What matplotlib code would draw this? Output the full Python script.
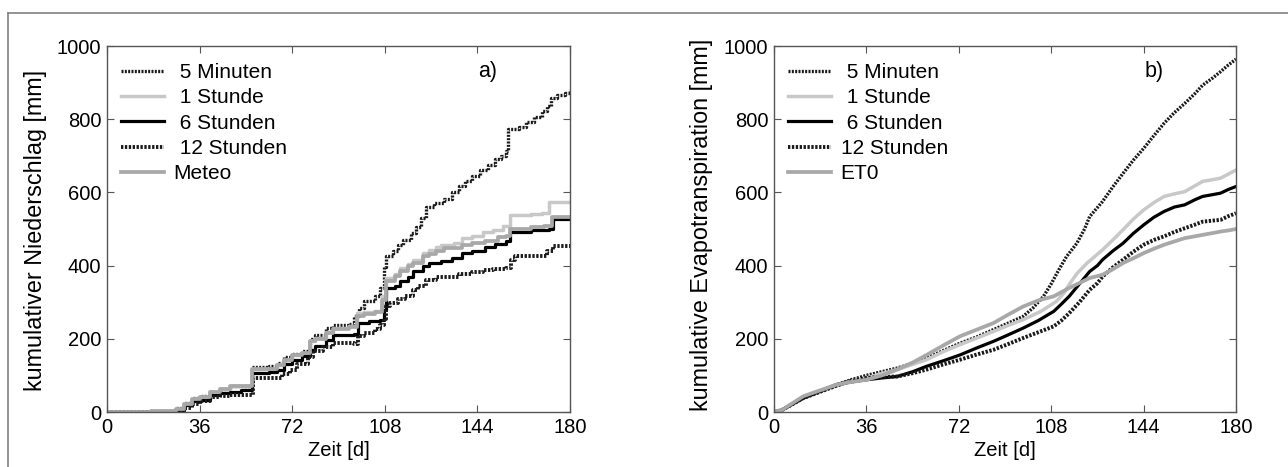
import matplotlib
matplotlib.use("Agg")
import matplotlib.pyplot as plt
from matplotlib.lines import Line2D

plt.rcParams['font.family'] = ['Liberation Sans', 'DejaVu Sans']

# ---- panel a) cumulative precipitation (step curves) ----
a_5min_d = [0, 17, 27, 30, 33, 36, 40, 44, 48, 56.5, 63, 66, 69, 72, 76, 79, 81, 85, 88, 94, 96, 98, 100, 104, 106,
            107.5, 108.5, 111, 113, 115, 118, 120, 122, 124, 127, 131, 134, 137, 139, 142, 145, 148, 151, 153, 155,
            156, 160, 163, 166, 169, 171, 172.5, 175, 178, 180]
a_5min_v = [0, 3, 12, 25, 38, 45, 56, 62, 70, 123, 125, 135, 150, 158, 168, 200, 210, 230, 238, 240, 262, 285, 302,
            316, 340, 395, 425, 440, 455, 470, 490, 505, 530, 560, 570, 582, 600, 618, 632, 645, 662, 675, 690, 700,
            712, 772, 780, 792, 805, 822, 835, 858, 865, 872, 876]

a_1h_d = [0, 17, 27, 30, 33, 36, 40, 44, 48, 56.5, 63, 66, 69, 72, 76, 79, 81, 85, 88, 94, 97, 100, 104, 107, 108.5,
          112, 114, 117, 119, 123, 125, 128, 130, 135, 138, 142, 146, 150, 154, 156.5, 165, 169, 172, 180]
a_1h_v = [0, 2, 8, 22, 35, 40, 55, 62, 72, 117, 118, 128, 143, 155, 162, 195, 202, 218, 230, 234, 270, 272, 276, 316,
          365, 378, 393, 405, 416, 435, 443, 450, 457, 462, 475, 482, 492, 498, 507, 539, 542, 545, 573, 575]

a_6h_d = [0, 28, 30, 33, 36, 40, 44, 48, 52, 56.5, 63, 66, 69, 72, 76, 79, 81, 85, 88, 96, 97.5, 102, 106, 107.5,
          108.5, 112, 114, 117, 119, 123, 125, 130, 134, 138, 142, 147, 151, 155, 156.5, 165, 172, 173.5, 180]
a_6h_v = [0, 5, 18, 30, 34, 47, 52, 56, 60, 106, 108, 116, 130, 143, 152, 170, 180, 198, 211, 212, 243, 248, 252, 280,
          338, 345, 357, 370, 384, 398, 407, 412, 420, 434, 440, 452, 458, 466, 493, 497, 500, 527, 527]

a_12h_d = [0, 28, 30, 33, 36, 40, 44, 48, 56.8, 65, 68, 71, 74, 78, 80, 84, 88, 96, 97.5, 100, 104, 106, 107.5, 108.5,
           110, 113, 116, 119, 121, 124, 128, 133, 137, 142, 146, 150, 155, 157, 158.5, 168, 171, 173.5, 180]
a_12h_v = [0, 3, 12, 22, 29, 40, 45, 47, 93, 94, 105, 116, 132, 150, 166, 178, 188, 185, 207, 215, 228, 238, 255, 290,
           298, 310, 316, 334, 345, 361, 368, 370, 378, 382, 388, 390, 393, 415, 425, 425, 440, 454, 454]

a_meteo_d = [0, 17, 27, 30, 33, 36, 40, 44, 48, 56.5, 63, 66, 69, 72, 76, 79, 81, 85, 88, 94, 97, 100, 104, 107, 108.5,
             112, 114, 117, 119, 123, 125, 128, 131, 138, 142, 147, 152, 155, 156.5, 165, 170, 173, 180]
a_meteo_v = [0, 2, 8, 22, 35, 40, 55, 62, 70, 117, 118, 128, 143, 155, 162, 195, 200, 215, 228, 232, 262, 268, 272,
             305, 358, 372, 385, 398, 408, 425, 433, 440, 447, 455, 462, 468, 478, 482, 500, 505, 507, 534, 534]

# ---- panel b) cumulative evapotranspiration ----
b_5min_d = [0, 3, 11.4, 24.4, 30, 36, 42, 48, 54, 59.5, 66, 72.5, 79, 85.5, 91, 97, 101, 105, 108, 111, 114, 118, 121,
            123, 128, 132, 136, 140, 144, 148, 152, 156, 160, 164, 167, 171, 174, 177, 180]
b_5min_v = [0, 5, 38, 75, 88, 100, 110, 120, 133, 147, 168, 188, 205, 225, 242, 261, 285, 316, 350, 389, 425, 461, 500,
            534, 575, 615, 652, 688, 720, 755, 789, 818, 843, 870, 893, 913, 930, 948, 964]

b_1h_d = [0, 3, 11.4, 24.4, 30, 36, 42, 48, 54, 59.5, 66, 72.5, 79, 85.5, 91, 97, 104, 110, 113, 115, 118, 122, 125,
          128, 132, 136, 140, 144, 148, 152, 156, 160, 164, 167, 171, 174, 177, 180]
b_1h_v = [0, 5, 38, 72, 85, 93, 105, 116, 130, 143, 165, 184, 202, 220, 236, 252, 275, 302, 325, 348, 378, 407, 425,
          443, 470, 498, 527, 552, 572, 589, 596, 602, 618, 630, 635, 639, 650, 661]

b_6h_d = [0, 3, 11.4, 24.4, 30, 36, 42, 48, 54, 59.5, 66, 72.5, 79, 85.5, 91, 97, 103, 109, 112, 115, 119, 123, 126,
          128, 132, 136, 140, 144, 148, 152, 156, 160, 164, 167, 171, 174, 177, 180]
b_6h_v = [0, 5, 38, 75, 82, 88, 93, 97, 110, 125, 140, 156, 175, 193, 210, 229, 250, 275, 295, 316, 350, 384, 400, 416,
          440, 461, 488, 511, 532, 548, 560, 566, 580, 589, 594, 598, 608, 616]

b_12h_d = [0, 3, 11.4, 24.4, 30, 36, 42, 48, 54, 59.5, 66, 72.5, 79, 85.5, 91, 97, 103, 109, 112, 115, 119, 123, 126,
           128, 132, 136, 140, 144, 148, 152, 156, 160, 164, 167, 171, 174, 177, 180]
b_12h_v = [0, 5, 38, 72, 85, 93, 96, 97, 106, 116, 130, 143, 157, 170, 185, 202, 218, 234, 250, 270, 300, 334, 352,
           370, 395, 416, 438, 457, 470, 480, 492, 502, 512, 520, 523, 525, 535, 543]

b_et0_d = [0, 3, 11.4, 24.4, 30, 36, 42, 48, 54, 59.5, 66, 72.5, 79, 85.5, 91, 97, 103, 109, 115, 123, 128, 132, 136,
           140, 144, 148, 152, 156, 160, 164, 167, 171, 174, 177, 180]
b_et0_v = [0, 5, 43, 75, 82, 88, 100, 116, 135, 156, 182, 207, 225, 243, 265, 288, 305, 316, 339, 366, 375, 390, 407,
           420, 434, 446, 457, 466, 475, 480, 484, 489, 493, 496, 500]

labels_a = [" 5 Minuten", " 1 Stunde", " 6 Stunden", " 12 Stunden", "Meteo"]
labels_b = [" 5 Minuten", " 1 Stunde", " 6 Stunden", "12 Stunden", "ET0"]
xticks = [0, 36, 72, 108, 144, 180]
yticks = [0, 200, 400, 600, 800, 1000]

styles = [
    dict(color="#1a1a1a", lw=2.4, ls=(0, (0.6, 0.4))),
    dict(color="#c8c8c8", lw=2.5, ls="-"),
    dict(color="black", lw=2.3, ls="-"),
    dict(color="#1a1a1a", lw=2.8, ls=(0, (0.6, 0.4))),
    dict(color="#a8a8a8", lw=2.7, ls="-"),
]

fig = plt.figure(figsize=(12.88, 4.67), dpi=100)
# gray frame of the figure
fig.add_artist(Line2D([8 / 1288, 1], [1 - 13 / 467, 1 - 13 / 467], color="#808080", lw=1.2))
fig.add_artist(Line2D([8 / 1288, 8 / 1288], [0, 1 - 13 / 467], color="#808080", lw=1.2))

ax1 = fig.add_axes([107 / 1288, 55 / 467, 463 / 1288, 366 / 467])
ax2 = fig.add_axes([774 / 1288, 55 / 467, 462 / 1288, 366 / 467])

series_a = [(a_5min_d, a_5min_v), (a_1h_d, a_1h_v), (a_6h_d, a_6h_v), (a_12h_d, a_12h_v), (a_meteo_d, a_meteo_v)]
series_b = [(b_5min_d, b_5min_v), (b_1h_d, b_1h_v), (b_6h_d, b_6h_v), (b_12h_d, b_12h_v), (b_et0_d, b_et0_v)]

for (d, v), lab, st in zip(series_a, labels_a, styles):
    ax1.plot(d, v, drawstyle="steps-post", label=lab, **st)
for (d, v), lab, st in zip(series_b, labels_b, styles):
    ax2.plot(d, v, label=lab, **st)

for ax, ylab, tag, lx, ly in [(ax1, "kumulativer Niederschlag [mm]", "a)", -0.13, 0.495),
                              (ax2, "kumulative Evapotranspiration [mm]", "b)", -0.132, 0.51)]:
    ax.set_xlim(0, 180)
    ax.set_ylim(0, 1000)
    ax.set_xticks(xticks)
    ax.set_yticks(yticks)
    ax.tick_params(direction="in", top=True, right=True, length=5, labelsize=14.5, pad=4, color="#555555")
    for sp in ax.spines.values():
        sp.set_color("#555555")
        sp.set_linewidth(1.0)
    ax.set_xlabel("Zeit [d]", fontsize=14.5)
    ax.set_ylabel(ylab, fontsize=16.8)
    ax.xaxis.set_label_coords(0.5, -0.08)
    ax.yaxis.set_label_coords(lx, ly)
    ax.text(148, 929, tag, fontsize=15.5, ha="center", va="center")
    ax.legend(loc="upper left", frameon=False, fontsize=15, handlelength=2.1, handletextpad=0.45,
              labelspacing=0.3, borderaxespad=0.25, bbox_to_anchor=(0.0, 0.99))

fig.savefig("out.png", dpi=100)
